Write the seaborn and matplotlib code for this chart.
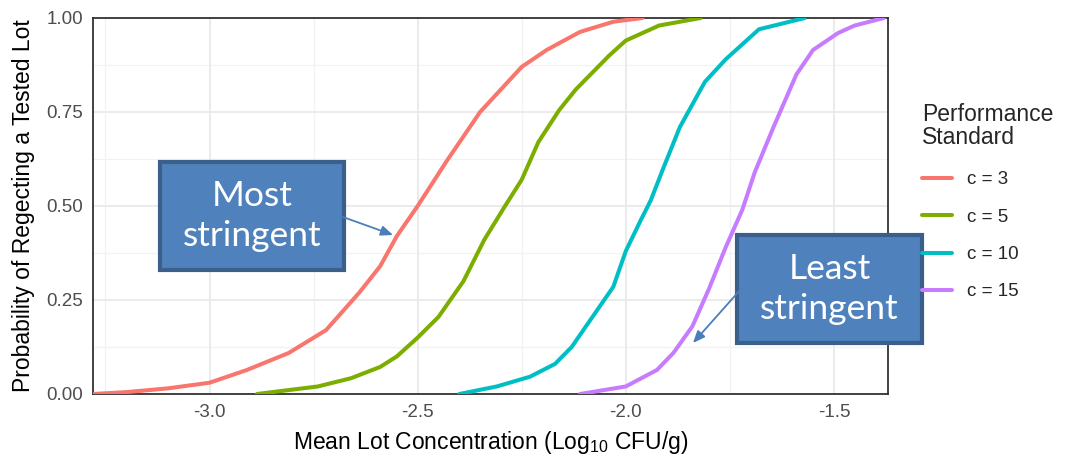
import numpy as np
import pandas as pd
import matplotlib
matplotlib.use("Agg")
import matplotlib.pyplot as plt
import seaborn as sns
from matplotlib.patches import Rectangle
from matplotlib.lines import Line2D

# ---- data ----
c3_x = [-3.28, -3.20, -3.10, -3.00, -2.91, -2.81, -2.72, -2.64, -2.59, -2.55, -2.50,
        -2.43, -2.35, -2.30, -2.25, -2.19, -2.11, -2.03, -1.96]
c3_p = [0.0, 0.005, 0.015, 0.03, 0.064, 0.109, 0.17, 0.27, 0.34, 0.42, 0.50,
        0.62, 0.75, 0.81, 0.87, 0.915, 0.963, 0.99, 1.0]

c5_x = [-2.886, -2.74, -2.66, -2.59, -2.55, -2.50, -2.45, -2.39, -2.34, -2.29, -2.25,
        -2.21, -2.16, -2.12, -2.04, -2.00, -1.92, -1.82]
c5_p = [0.0, 0.02, 0.042, 0.072, 0.10, 0.15, 0.205, 0.30, 0.41, 0.50, 0.57,
        0.67, 0.755, 0.81, 0.90, 0.94, 0.98, 1.0]

c10_x = [-2.40, -2.31, -2.23, -2.17, -2.13, -2.08, -2.03, -2.00, -1.965, -1.94, -1.91,
         -1.87, -1.81, -1.76, -1.68, -1.57]
c10_p = [0.0, 0.02, 0.046, 0.08, 0.125, 0.205, 0.285, 0.38, 0.46, 0.515, 0.60,
         0.71, 0.83, 0.89, 0.97, 1.0]

c15_x = [-2.11, -2.00, -1.925, -1.885, -1.84, -1.80, -1.76, -1.72, -1.69, -1.645,
         -1.59, -1.55, -1.49, -1.45, -1.38]
c15_p = [0.0, 0.02, 0.064, 0.11, 0.18, 0.28, 0.39, 0.49, 0.59, 0.71,
         0.85, 0.915, 0.96, 0.98, 1.0]

standards = ["c = 3", "c = 5", "c = 10", "c = 15"]
colors = ["#F8766D", "#7CAE00", "#00BFC4", "#C77CFF"]
x_ticks = [-3.0, -2.5, -2.0, -1.5]
x_tick_labels = ["-3.0", "-2.5", "-2.0", "-1.5"]
y_ticks = [0.0, 0.25, 0.5, 0.75, 1.0]
y_tick_labels = ["0.00", "0.25", "0.50", "0.75", "1.00"]

frames = []
for name, xs, ps in zip(standards, [c3_x, c5_x, c10_x, c15_x], [c3_p, c5_p, c10_p, c15_p]):
    frames.append(pd.DataFrame({"x": xs, "p": ps, "Standard": name}))
df = pd.concat(frames, ignore_index=True)

# ---- style ----
sns.set_theme(style="white")
plt.rcParams['font.family'] = ['Liberation Sans', 'DejaVu Sans']
plt.rcParams['mathtext.fontset'] = 'custom'
plt.rcParams['mathtext.rm'] = 'Liberation Sans'
plt.rcParams['mathtext.it'] = 'Liberation Sans'

fig = plt.figure(figsize=(10.73, 4.58), dpi=100)
ax = fig.add_axes([93 / 1073, 64 / 458, 795 / 1073, 376 / 458])

# grid
for v in [-3.25, -2.75, -2.25, -1.75]:
    ax.axvline(v, color="#F2F2F2", lw=0.9, zorder=0)
for v in [0.125, 0.375, 0.625, 0.875]:
    ax.axhline(v, color="#F2F2F2", lw=0.9, zorder=0)
for v in x_ticks:
    ax.axvline(v, color="#EBEBEB", lw=1.4, zorder=0)
for v in y_ticks:
    ax.axhline(v, color="#EBEBEB", lw=1.4, zorder=0)

sns.lineplot(data=df, x="x", y="p", hue="Standard", hue_order=standards,
             palette=colors, linewidth=2.9, ax=ax, legend=False,
             estimator=None, sort=False, zorder=3)

ax.set_xlim(-3.28, -1.37)
ax.set_ylim(0, 1)
ax.set_xticks(x_ticks)
ax.set_xticklabels(x_tick_labels)
ax.set_yticks(y_ticks)
ax.set_yticklabels(y_tick_labels)
ax.tick_params(axis="both", direction="out", length=4, width=1.1, color="#333333",
               labelcolor="#4D4D4D", labelsize=13.5, pad=3)
for s in ax.spines.values():
    s.set_color("#333333")
    s.set_linewidth(1.3)
    s.set_visible(True)

ax.set_xlabel("Mean Lot Concentration (Log$_{10}$ CFU/g)", fontsize=16.5, color="black", labelpad=6)
ax.set_ylabel("Probability of Regecting a Tested Lot", fontsize=16.5, color="black", labelpad=8)

# legend
handles = [Line2D([0], [0], color=c, lw=2.9) for c in colors]
leg = fig.legend(handles, standards, title="Performance\nStandard",
                 loc="upper left", bbox_to_anchor=(922 / 1073, 1 - 103 / 458),
                 frameon=False, fontsize=13.5, title_fontsize=16.5,
                 handlelength=1.6, handletextpad=0.8, labelspacing=1.08,
                 borderaxespad=0, borderpad=0)
leg._legend_box.align = "left"
leg._legend_box.sep = 16
leg.get_title().set_linespacing(1.0)

# annotation boxes
box_fc = "#4F81BD"
box_ec = "#3A5F8B"
ann_font = ['Lato', 'DejaVu Sans']

def add_box(x0, y0, x1, y1, text):
    r = Rectangle((x0, y0), x1 - x0, y1 - y0, transform=ax.transAxes,
                  facecolor=box_fc, edgecolor=box_ec, lw=3, clip_on=False, zorder=5)
    ax.add_patch(r)
    ax.text((x0 + x1) / 2, (y0 + y1) / 2, text, transform=ax.transAxes,
            ha="center", va="center", color="white", fontsize=25.5, family=ann_font,
            linespacing=1.3, zorder=6)

add_box(0.0843, 0.330, 0.3157, 0.617, "Most\nstringent")
add_box(0.810, 0.136, 1.043, 0.423, "Least\nstringent")

arrow_kw = dict(arrowstyle="-|>,head_length=0.6,head_width=0.25", color="#4A7EBB", lw=1.3,
                shrinkA=0, shrinkB=0)
ax.annotate("", xy=(0.3774, 0.4229), xytext=(0.3145, 0.4707), xycoords="axes fraction",
            textcoords="axes fraction", arrowprops=arrow_kw, zorder=6)
ax.annotate("", xy=(0.7547, 0.1356), xytext=(0.8151, 0.2793), xycoords="axes fraction",
            textcoords="axes fraction", arrowprops=arrow_kw, zorder=6)

fig.savefig("out.png", dpi=100)
